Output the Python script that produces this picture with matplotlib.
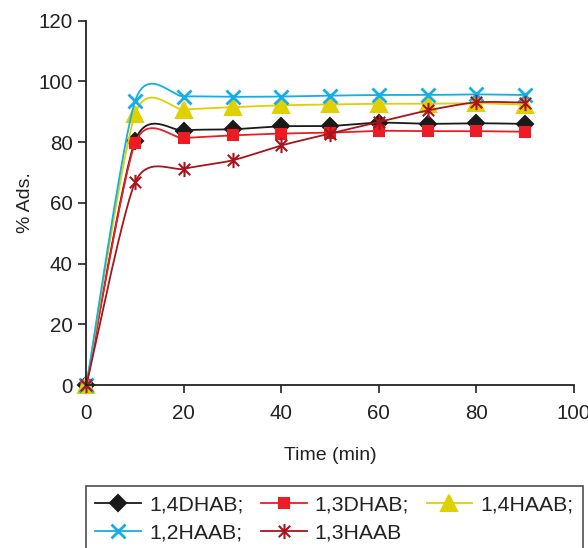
import numpy as np
import matplotlib
matplotlib.use("Agg")
import matplotlib.pyplot as plt
from matplotlib.path import Path

plt.rcParams['font.family'] = ['Liberation Sans', 'DejaVu Sans']

# data
time_min = [0, 10, 20, 30, 40, 50, 60, 70, 80, 90]
dhab_14 = [0, 80.5, 83.8, 84.2, 85.2, 85.3, 86.4, 86.0, 86.2, 86.0]
dhab_13 = [0, 79.7, 81.3, 82.2, 82.8, 83.1, 83.7, 83.6, 83.6, 83.4]
haab_14 = [0, 89.3, 90.7, 91.5, 92.1, 92.4, 92.6, 92.6, 92.8, 92.3]
haab_12 = [0, 93.6, 95.0, 94.9, 95.0, 95.3, 95.5, 95.5, 95.7, 95.5]
haab_13 = [0, 66.8, 71.2, 74.0, 78.9, 82.8, 86.6, 90.4, 93.1, 93.0]

labels = ['1,4DHAB;', '1,3DHAB;', '1,4HAAB;', '1,2HAAB;', '1,3HAAB']
colors = ['#1a1a1a', '#ed1c24', '#e0d000', '#12aee8', '#a8141c']

star = Path([(0, -1), (0, 1), (-0.75, -0.75), (0.75, 0.75), (-0.75, 0.75), (0.75, -0.75)],
            [Path.MOVETO, Path.LINETO, Path.MOVETO, Path.LINETO, Path.MOVETO, Path.LINETO])
markers = ['D', 's', '^', 'x', star]
msizes = [8, 6.5, 11, 10, 11]


def smooth(xs, ys, k=1 / 8, n=30):
    # excel-like smoothed line (bezier through the points)
    p = np.column_stack([xs, ys]).astype(float)
    out = [p[0]]
    for i in range(len(p) - 1):
        p0 = p[i - 1] if i > 0 else p[i]
        p1, p2 = p[i], p[i + 1]
        p3 = p[i + 2] if i + 2 < len(p) else p[i + 1]
        c1 = p1 + (p2 - p0) * k
        c2 = p2 - (p3 - p1) * k
        t = np.linspace(0, 1, n)[1:, None]
        seg = (1 - t) ** 3 * p1 + 3 * (1 - t) ** 2 * t * c1 + 3 * (1 - t) * t ** 2 * c2 + t ** 3 * p2
        out.extend(seg)
    out = np.array(out)
    return out[:, 0], out[:, 1]


fig = plt.figure(figsize=(5.88, 5.48), dpi=100)
ax = fig.add_axes([0.147, 0.2974, 0.829, 0.665])

series = [dhab_14, dhab_13, haab_14, haab_12, haab_13]
handles = []
for ys, lab, c, m, ms in zip(series, labels, colors, markers, msizes):
    sx, sy = smooth(time_min, ys)
    mew = 2 if m == 'x' else 1.5
    ax.plot(sx, sy, color=c, lw=1.3, clip_on=False)
    ax.plot(time_min, ys, ls='none', marker=m, ms=ms, color=c, mew=mew, clip_on=False)
    h, = ax.plot([], [], color=c, lw=1.3, marker=m, ms=ms, mew=mew)
    handles.append(h)

ax.set_xlim(0, 100)
ax.set_ylim(0, 120)
ax.set_xticks([0, 20, 40, 60, 80, 100])
ax.set_yticks([0, 20, 40, 60, 80, 100, 120])
ax.spines['top'].set_visible(False)
ax.spines['right'].set_visible(False)
for s in ('left', 'bottom'):
    ax.spines[s].set_color('#222222')
    ax.spines[s].set_linewidth(1.3)
ax.tick_params(direction='out', length=6, width=1.2, colors='#222222', labelsize=14.8,
               labelcolor='#222222')
ax.tick_params(axis='x', pad=8)
ax.tick_params(axis='y', pad=4)

ax.set_xlabel('Time (min)', fontsize=14, color='#222222', labelpad=17)
ax.set_ylabel('% Ads.', fontsize=14, color='#222222', labelpad=3)

# legend fills row by row in the reference
order = [0, 3, 1, 4, 2]
leg = fig.legend([handles[i] for i in order], [labels[i] for i in order],
                 loc='upper left', bbox_to_anchor=(0.146, 0.113),
                 ncol=3, fontsize=15.3, frameon=True, fancybox=False,
                 handlelength=2.15, handletextpad=0.38, columnspacing=0.82,
                 labelspacing=0.42, borderpad=0.45, borderaxespad=0)
leg.get_frame().set_edgecolor('#222222')
leg.get_frame().set_linewidth(1.2)
for t in leg.get_texts():
    t.set_color('#222222')

fig.savefig('out.png', dpi=100)
